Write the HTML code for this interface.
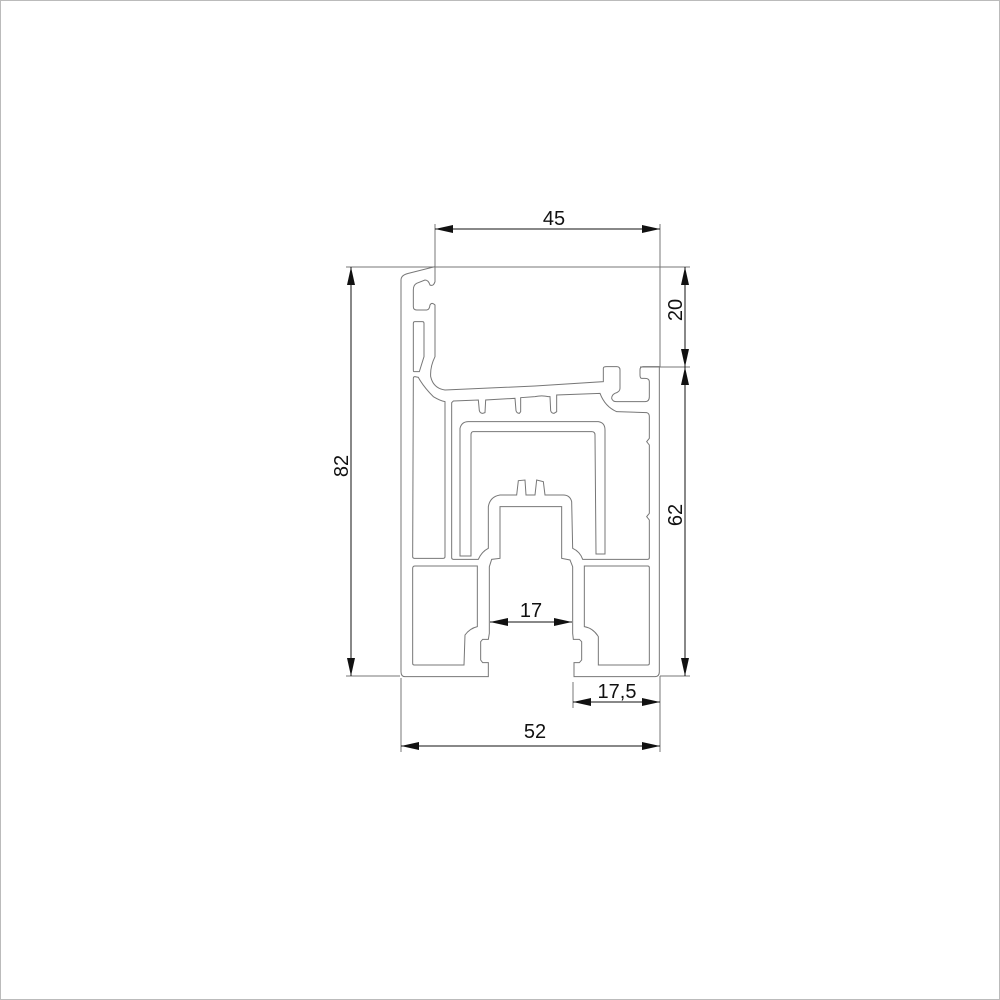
<!DOCTYPE html>
<html><head><meta charset="utf-8"><style>
html,body{margin:0;padding:0;background:#fff;}
svg{display:block;}
text{font-family:"Liberation Sans","DejaVu Sans",sans-serif;font-size:20px;fill:#111;}
</style></head><body>
<svg width="1000" height="1000" viewBox="0 0 1000 1000" xmlns="http://www.w3.org/2000/svg">
<rect x="0.5" y="0.5" width="999" height="999" fill="#fff" stroke="#bbb"/>
<g transform="translate(390,260) scale(0.33333)" fill="none" stroke="#777" stroke-width="1" vector-effect="non-scaling-stroke">
<path vector-effect="non-scaling-stroke" d="M 760,320 L 808,320 L 808,1235 Q 808,1250 795,1250 L 552,1250 L 552,1208 L 568,1208 L 575,1200 L 575,1145 L 568,1138 L 550,1138 L 548,1120 L 548,920 L 540,900 L 515,895 L 515,740 L 330,740 L 330,895 L 305,898 L 298,920 L 298,1120 L 295,1138 L 278,1138 L 272,1145 L 272,1200 L 278,1208 L 295,1208 L 295,1250 L 45,1250 Q 33,1250 33,1235 L 33,60 Q 33,45 55,40 L 135,20 L 135,65 Q 130,80 120,75 Q 115,60 105,60 L 80,70 Q 70,75 70,90 L 70,140 Q 70,150 80,150 L 110,150 Q 118,150 120,135 Q 125,125 135,135 L 135,290 Q 120,320 122,350 Q 130,385 165,390 L 435,378 L 640,365 L 640,325 Q 640,320 650,320 L 680,320 Q 690,320 690,330 L 690,385 Q 690,395 675,400 Q 665,405 665,415 Q 668,425 680,425 L 765,425 Q 778,425 778,410 L 778,365 Q 778,355 765,355 L 755,355 Q 750,355 750,345 L 750,330 Q 750,320 760,320 Z"/>
<path vector-effect="non-scaling-stroke" d="M 70,190 Q70,185 75,185 L 97,185 Q102,185 102,190 L 102,290 L 88,335 L 72,335 Q70,335 70,330 Z"/>
<path vector-effect="non-scaling-stroke" d="M 70,355 Q 70,350 75,350 L 85,352 Q 100,380 130,410 Q 150,422 165,425 L 165,890 Q165,895 160,895 L 73,895 Q68,895 68,890 Z"/>
<path vector-effect="non-scaling-stroke" d="M 190,423 L 265,420 L 268,452 Q270,460 278,460 L 285,458 L 287,420 L 375,415 L 378,452 Q380,460 388,460 L 392,455 L 392,413 L 435,410 Q 455,405 475,410 L 480,410 L 482,452 Q484,460 492,460 L 500,455 L 500,405 L 630,400 Q 645,440 680,455 L 770,458 Q778,460 778,470 L 778,535 L 770,545 L 778,555 L 778,760 L 770,770 L 778,780 L 778,893 Q778,898 773,898 L 578,898 Q 570,875 548,865 L 545,725 Q 540,705 520,705 L 465,705 L 460,665 L 440,660 L 435,705 L 408,705 L 405,660 L 385,662 L 380,705 L 330,705 Q 300,710 295,740 L 295,865 Q 275,875 265,898 L 190,898 Q185,898 185,893 L 185,428 Z"/>
<path vector-effect="non-scaling-stroke" d="M 210,888 L 210,505 Q 215,485 235,485 L 625,485 Q 645,488 645,510 L 645,882 L 618,882 L 615,525 Q 615,515 605,515 L 250,515 Q 243,515 243,525 L 243,888 Z"/>
<path vector-effect="non-scaling-stroke" d="M 68,925 Q68,918 75,918 L 262,918 L 262,1100 Q 240,1105 225,1125 L 222,1215 L 73,1215 Q68,1215 68,1210 Z"/>
<path vector-effect="non-scaling-stroke" d="M 583,918 L 773,918 Q 778,918 778,923 L 778,1210 Q778,1215 773,1215 L 625,1215 L 625,1130 Q 610,1105 583,1100 Z"/>
</g>
<g stroke="#777" stroke-width="1" fill="none">
<line x1="435" y1="224" x2="435" y2="267"/>
<line x1="660" y1="224" x2="660" y2="367"/>
<line x1="346" y1="267" x2="690" y2="267"/>
<line x1="640" y1="367" x2="690" y2="367"/>
<line x1="346" y1="676" x2="400" y2="676"/>
<line x1="660" y1="676" x2="690" y2="676"/>
<line x1="573" y1="682" x2="573" y2="708"/>
<line x1="660" y1="676" x2="660" y2="752"/>
<line x1="401" y1="678" x2="401" y2="752"/>
</g>
<g stroke="#111" stroke-width="1" fill="none">
<line x1="435" y1="229" x2="660" y2="229"/>
<line x1="351" y1="267" x2="351" y2="676"/>
<line x1="685" y1="267" x2="685" y2="676"/>
<line x1="490" y1="622" x2="572" y2="622"/>
<line x1="573" y1="702" x2="660" y2="702"/>
<line x1="401" y1="746" x2="660" y2="746"/>
</g>
<g fill="#111">
<polygon points="435,229 453,225 453,233"/><polygon points="660,229 642,225 642,233"/>
<polygon points="351,267 347,285 355,285"/><polygon points="351,676 347,658 355,658"/>
<polygon points="685,267 681,285 689,285"/><polygon points="685,367 681,349 689,349"/>
<polygon points="685,367 681,385 689,385"/><polygon points="685,676 681,658 689,658"/>
<polygon points="490,622 508,618 508,626"/><polygon points="572,622 554,618 554,626"/>
<polygon points="573,702 591,698 591,706"/><polygon points="660,702 642,698 642,706"/>
<polygon points="401,746 419,742 419,750"/><polygon points="660,746 642,742 642,750"/>
</g>
<text x="554" y="225" text-anchor="middle">45</text>
<text x="531" y="617" text-anchor="middle">17</text>
<text x="617" y="698" text-anchor="middle">17,5</text>
<text x="535" y="738" text-anchor="middle">52</text>
<text transform="translate(348,466) rotate(-90)" text-anchor="middle">82</text>
<text transform="translate(682,310) rotate(-90)" text-anchor="middle">20</text>
<text transform="translate(682,515) rotate(-90)" text-anchor="middle">62</text>
</svg>
</body></html>
